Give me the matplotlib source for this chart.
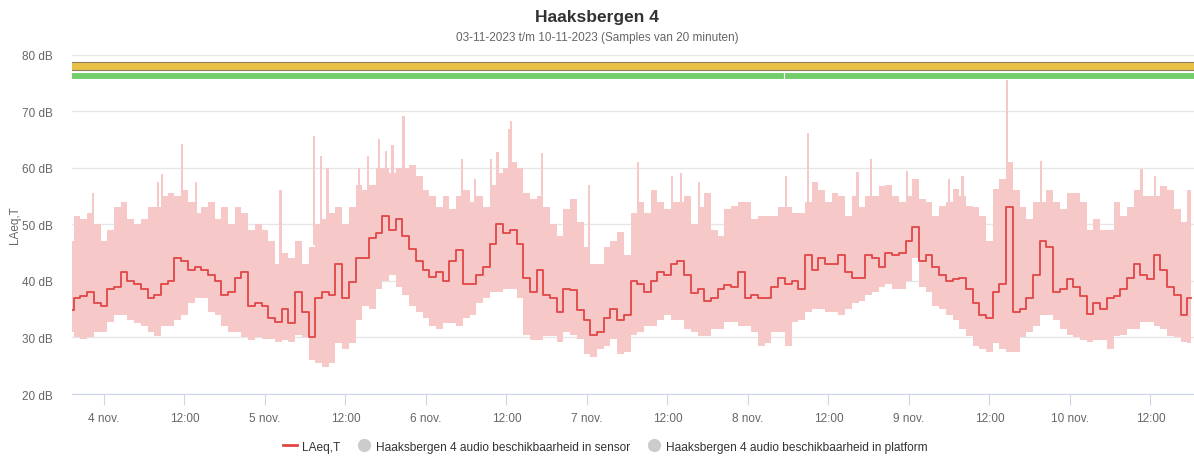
import numpy as np
import pandas as pd
import matplotlib
matplotlib.use("Agg")
import matplotlib.pyplot as plt
import matplotlib.dates as mdates
from matplotlib.lines import Line2D

plt.rcParams['font.family'] = ['Liberation Sans', 'DejaVu Sans']

# hourly samples, 03-11 19:00 .. 10-11 18:00
start = "2023-11-03 19:00"

laeq = [34.8, 37, 37.4, 38, 36, 35.5, 38.5, 39, 41.5, 40, 39.5, 38.5, 37, 37.5, 39.5, 40,
        44, 43.5, 42, 42.5, 42, 41, 40, 37.5, 38, 40.5, 41.5, 35.5, 36, 35.5, 33.5, 32.7,
        35, 32.5, 38, 34.5, 30, 37, 38, 37.5, 43, 37, 39.8, 44, 44, 47.5, 48.5, 51.5,
        49, 51, 48, 45.6, 43.5, 42, 40.6, 41.5, 40, 43.5, 45.5, 39.5, 39.5, 41, 42.5, 46.5,
        50, 48.5, 49, 46.5, 40.5, 38, 42, 37.5, 37, 34.5, 38.6, 38.3, 34.8, 33, 30.5, 31,
        33.5, 35, 33, 34, 40, 39.5, 38, 40, 41.5, 41, 43, 43.5, 41, 37.8, 38.5, 36.5,
        37, 38.6, 39.2, 39, 41.5, 37, 37.5, 37, 37, 39, 40.5, 39.5, 40, 38.5, 44.5, 42,
        44, 43, 43, 44.5, 41.5, 40.5, 40.5, 44.5, 44, 42.5, 45, 44.5, 45, 47, 49.5, 43.5,
        44.5, 42.5, 41, 40, 40.4, 40.5, 38.5, 36, 34, 33.5, 38, 39.5, 53, 34.5, 35, 37,
        41, 47, 46, 38, 38.6, 40.4, 39, 37.4, 34.2, 36, 35, 37, 37.4, 38.5, 40.5, 43,
        41, 40.4, 44.5, 42, 39, 37.5, 34, 37]

laeq_max = [47, 51.5, 51, 52, 50, 47, 49, 53, 54, 51, 50, 51, 53, 53, 55, 55.5,
            55, 56, 54, 52, 53, 54, 51, 53, 50, 53, 52, 49, 50, 49, 47, 43,
            45, 44, 47, 43, 46, 50, 51, 52, 53, 50, 53, 57, 56, 57, 60, 60,
            59, 60, 60, 60.5, 58.6, 56, 55, 53, 55, 52.7, 55, 56, 54, 55, 53, 57,
            59, 60, 61, 60, 55.6, 54.5, 55, 53, 50, 48, 52.7, 54.5, 50.4, 46, 43, 43,
            46, 47, 48.6, 44.5, 52, 53.9, 52, 56, 54, 52.7, 54, 54, 55, 50, 53, 55.6,
            49, 48, 52.7, 53.3, 54, 54, 51, 51.5, 51.5, 51.5, 53, 53, 52, 52, 54, 57.4,
            56, 54, 55.6, 55, 51.5, 55, 53, 55, 55, 56.8, 57, 55, 54, 55, 58, 54.5,
            54, 51.5, 53.3, 54, 56.2, 55, 53.3, 53, 51.5, 47, 56.2, 58, 61, 56, 53, 51,
            54, 54, 56, 54, 52.7, 55.6, 55.6, 54, 49, 51, 49, 49, 54, 51.5, 53, 56,
            55, 55, 55, 56.8, 56, 52.7, 50.4, 56]

laeq_min = [31, 30, 29.8, 30, 31, 31, 32.7, 34, 34, 33, 32.5, 32, 31, 30.3, 32, 32,
            33, 34, 36, 37, 37, 34.5, 34, 32, 31, 31, 30, 29.5, 30, 29.8, 29.8, 29.2,
            29.6, 29.2, 30.5, 30, 26, 25.5, 24.8, 25.5, 29, 28, 29, 33, 35.6, 35, 38.6, 40,
            41, 39, 37.5, 35.5, 34.5, 33.5, 32, 31.5, 32.5, 32.5, 32, 33.5, 34, 36, 37, 38,
            38, 38.5, 38.6, 37, 30.5, 29.5, 29.5, 30.3, 30.3, 29.2, 31, 30.5, 29.8, 27, 26.5, 28,
            28.5, 29.8, 27, 27.5, 30.5, 31, 32, 32, 33, 33.9, 33, 33, 31.5, 31, 30.3, 30.3,
            31.5, 31.5, 32.7, 32.7, 32, 32, 31, 28.5, 29, 31, 31, 28.5, 32.7, 33, 34.5, 35,
            35, 34.5, 34.5, 34, 35, 36, 36.5, 37.5, 38, 39, 39.5, 38.6, 38.6, 40, 44, 39,
            38, 35.5, 35, 34, 33, 31.5, 30.3, 28.5, 28, 27.4, 29, 28, 27.4, 27.5, 30, 31,
            32, 34, 34, 33, 31.5, 30.5, 30, 29.5, 29.2, 29.5, 29.5, 28, 30.3, 30.5, 31.5, 31.5,
            32.7, 32.7, 32, 31.5, 30.3, 30, 29.2, 29]

# short peaks above the range band
peak_times = ["2023-11-03 22:20", "2023-11-04 08:00", "2023-11-04 08:40", "2023-11-04 11:40",
              "2023-11-04 13:40", "2023-11-05 02:20", "2023-11-05 07:20", "2023-11-05 08:20",
              "2023-11-05 09:20", "2023-11-05 14:00", "2023-11-05 15:20", "2023-11-05 17:00",
              "2023-11-05 18:00", "2023-11-05 19:00", "2023-11-05 20:40", "2023-11-06 05:20",
              "2023-11-06 07:20", "2023-11-06 09:40", "2023-11-06 10:40", "2023-11-06 12:20",
              "2023-11-06 12:40", "2023-11-06 17:20", "2023-11-07 00:20", "2023-11-07 07:40",
              "2023-11-07 12:40", "2023-11-07 14:00", "2023-11-07 16:40", "2023-11-08 05:40",
              "2023-11-08 09:00", "2023-11-08 16:20", "2023-11-08 18:20", "2023-11-08 23:40",
              "2023-11-09 06:00", "2023-11-09 08:00", "2023-11-09 14:40", "2023-11-09 19:40",
              "2023-11-10 10:40", "2023-11-10 12:40"]
peak_vals = [55.6, 57.4, 58.9, 64.2, 57.4, 56, 65.6, 62, 60, 60, 62, 65, 63, 64, 69.2, 61.5,
             58, 61.5, 62.7, 66.8, 68.3, 62.6, 57, 61, 58.6, 59, 57.4, 58.6, 66.2, 59.2, 61.5,
             59.5, 58, 58.6, 75.6, 61.2, 59.8, 58.6]

# availability (xrange) segments
sensor_avail = [("2023-11-03 19:00", "2023-11-10 19:00")]
platform_avail = [("2023-11-03 19:00", "2023-11-08 05:20"), ("2023-11-08 05:20", "2023-11-10 19:00")]

times = pd.date_range(start, periods=len(laeq), freq="h")
tnum = mdates.date2num(times)
peak_num = mdates.date2num(pd.to_datetime(peak_times))
band_col = "#f7c8c8"
line_col = "#e04646"

fig = plt.figure(figsize=(11.94, 4.6), dpi=100)
ax = fig.add_axes([0.0603, 0.1413, 0.9397, 0.738])

ax.fill_between(tnum, laeq_min, laeq_max, step="mid", color=band_col, lw=0, zorder=2)
base = np.interp(peak_num, tnum, laeq_max) - 1
ax.bar(peak_num, np.array(peak_vals) - base, bottom=base, width=1 / 72,
       color=band_col, lw=0, zorder=2)
ax.plot(tnum, laeq, drawstyle="steps-mid", color=line_col, lw=1.3, zorder=3)

for a, b in sensor_avail:
    a, b = mdates.date2num(pd.Timestamp(a)), mdates.date2num(pd.Timestamp(b))
    ax.broken_barh([(a, b - a)], (77.2, 1.4), facecolor="#e9c146",
                   edgecolor="#8c7f5c", lw=0.8, zorder=4)
for a, b in platform_avail:
    a, b = mdates.date2num(pd.Timestamp(a)), mdates.date2num(pd.Timestamp(b))
    ax.broken_barh([(a, b - a)], (75.7, 1.2), facecolor="#72cd6a",
                   edgecolor="white", lw=0.8, zorder=4)

ax.set_ylim(20, 80)
ax.set_xlim(tnum[0] + 14 / 1440, tnum[-1] + 30 / 1440)
ax.set_yticks(range(20, 81, 10))
ax.set_yticklabels([f"{v} dB" for v in range(20, 81, 10)])
ax.grid(axis="y", color="#e6e6e6", lw=1)
ax.set_axisbelow(True)

ticks = pd.date_range("2023-11-04", "2023-11-10 12:00", freq="12h")
ax.set_xticks(mdates.date2num(ticks))
ax.set_xticklabels([f"{t.day} nov." if t.hour == 0 else "12:00" for t in ticks])

for s in ["top", "right", "left"]:
    ax.spines[s].set_visible(False)
ax.spines["bottom"].set_color("#ccd6eb")
ax.tick_params(axis="y", length=0, pad=14, labelsize=8.5, labelcolor="#666666")
ax.tick_params(axis="x", length=8, color="#ccd6eb", pad=5, labelsize=8.5, labelcolor="#666666")
ax.set_ylabel("LAeq,T", fontsize=8.5, color="#666666")
ax.yaxis.set_label_coords(-0.0455, 0.5)

fig.text(0.5, 0.963, "Haaksbergen 4", ha="center", va="center", fontsize=12.5,
         fontweight="bold", color="#333333")
fig.text(0.5, 0.918, "03-11-2023 t/m 10-11-2023 (Samples van 20 minuten)", ha="center",
         va="center", fontsize=8.5, color="#666666")

handles = [Line2D([], [], color=line_col, lw=2),
           Line2D([], [], ls="", marker="o", ms=8.5, color="#cccccc"),
           Line2D([], [], ls="", marker="o", ms=8.5, color="#cccccc")]
labels = ["LAeq,T", "Haaksbergen 4 audio beschikbaarheid in sensor",
          "Haaksbergen 4 audio beschikbaarheid in platform"]
fig.legend(handles, labels, loc="center left", bbox_to_anchor=(283 / 1194, 0.027), ncol=3,
           frameon=False, fontsize=8.6, handlelength=1.2, handletextpad=0.4,
           columnspacing=1.4, borderpad=0, borderaxespad=0, labelcolor="#333333")

fig.savefig("out.png", dpi=100)
